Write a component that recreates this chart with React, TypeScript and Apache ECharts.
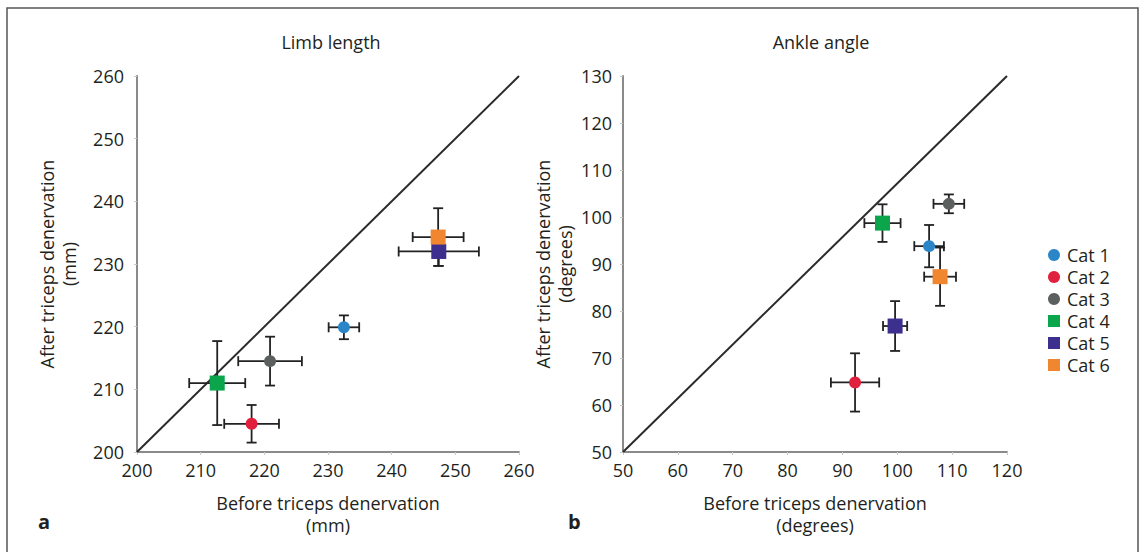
import React, { useEffect, useRef } from "react";
import * as echarts from "echarts";

const categories = ["Cat 1", "Cat 2", "Cat 3", "Cat 4", "Cat 5", "Cat 6"];
const colors = ["#2a86c8", "#e0203c", "#5b605f", "#0ba64b", "#3d2f8e", "#f0862f"];
const shapes = ["circle", "circle", "circle", "rect", "rect", "rect"];

// Limb length (mm)
const limbBefore = [232.5, 218.0, 220.9, 212.6, 247.4, 247.3];
const limbBeforeErr = [2.4, 4.3, 5.0, 4.4, 6.3, 4.0];
const limbAfter = [219.9, 204.5, 214.5, 211.0, 232.0, 234.3];
const limbAfterErr = [1.9, 3.0, 3.9, 6.7, 2.3, 4.6];

// Ankle angle (degrees)
const ankleBefore = [105.8, 92.3, 109.4, 97.3, 99.6, 107.8];
const ankleBeforeErr = [2.7, 4.4, 2.8, 3.3, 2.2, 2.9];
const ankleAfter = [93.8, 64.8, 102.8, 98.7, 76.8, 87.3];
const ankleAfterErr = [4.5, 6.2, 2.0, 4.0, 5.3, 6.2];

const limbLine = [[200, 200], [260, 260]];
const ankleLine = [[50, 50], [120, 130]];

const FONT = "Open Sans";
const TXT = "#231f20";

function errRender(params: any, api: any) {
  const x = api.value(0);
  const y = api.value(1);
  const ex = api.value(2);
  const ey = api.value(3);
  const l = api.coord([x - ex, y]);
  const r = api.coord([x + ex, y]);
  const t = api.coord([x, y + ey]);
  const b = api.coord([x, y - ey]);
  const cap = 5;
  const style = { stroke: "#222", lineWidth: 1.8 };
  const ln = (x1: number, y1: number, x2: number, y2: number) => ({
    type: "line",
    shape: { x1, y1, x2, y2 },
    style,
  });
  return {
    type: "group",
    children: [
      ln(l[0], l[1], r[0], r[1]),
      ln(l[0], l[1] - cap, l[0], l[1] + cap),
      ln(r[0], r[1] - cap, r[0], r[1] + cap),
      ln(t[0], t[1], b[0], b[1]),
      ln(t[0] - cap, t[1], t[0] + cap, t[1]),
      ln(b[0] - cap, b[1], b[0] + cap, b[1]),
    ],
  };
}

function axisCommon(min: number, max: number) {
  return {
    type: "value",
    min,
    max,
    interval: 10,
    splitLine: { show: false },
    axisLine: { show: true, lineStyle: { color: "#8a8a8a", width: 2 } },
    axisTick: { show: true, length: 3, lineStyle: { color: "#c8c8c8" } },
    axisLabel: { fontFamily: FONT, fontSize: 18, color: TXT },
    nameTextStyle: { fontFamily: FONT, fontSize: 18, color: TXT, lineHeight: 22 },
  };
}

export default function App() {
  const ref = useRef<HTMLDivElement>(null);
  useEffect(() => {
    if (!ref.current) return;
    const chart = echarts.init(ref.current, undefined, { renderer: "svg" });
    const series: any[] = [];
    series.push({
      type: "line",
      xAxisIndex: 0,
      yAxisIndex: 0,
      data: limbLine,
      symbol: "none",
      lineStyle: { color: "#2a2a2a", width: 2 },
      z: 1,
      silent: true,
    });
    series.push({
      type: "line",
      xAxisIndex: 1,
      yAxisIndex: 1,
      data: ankleLine,
      symbol: "none",
      lineStyle: { color: "#2a2a2a", width: 2 },
      z: 1,
      silent: true,
    });
    categories.forEach((c, i) => {
      series.push({
        type: "custom",
        name: "err" + i,
        xAxisIndex: 0,
        yAxisIndex: 0,
        renderItem: errRender,
        encode: { x: 0, y: 1 },
        data: [[limbBefore[i], limbAfter[i], limbBeforeErr[i], limbAfterErr[i]]],
        z: 2,
      });
      series.push({
        type: "custom",
        name: "err" + i,
        xAxisIndex: 1,
        yAxisIndex: 1,
        renderItem: errRender,
        encode: { x: 0, y: 1 },
        data: [[ankleBefore[i], ankleAfter[i], ankleBeforeErr[i], ankleAfterErr[i]]],
        z: 2,
      });
    });
    categories.forEach((c, i) => {
      const size = shapes[i] === "circle" ? 12 : 15;
      series.push({
        type: "scatter",
        name: c,
        xAxisIndex: 0,
        yAxisIndex: 0,
        symbol: shapes[i],
        symbolSize: size,
        itemStyle: { color: colors[i], opacity: 1 },
        data: [[limbBefore[i], limbAfter[i]]],
        z: 3,
      });
      series.push({
        type: "scatter",
        name: c,
        xAxisIndex: 1,
        yAxisIndex: 1,
        symbol: shapes[i],
        symbolSize: size,
        itemStyle: { color: colors[i], opacity: 1 },
        data: [[ankleBefore[i], ankleAfter[i]]],
        z: 3,
      });
    });

    chart.setOption({
      animation: false,
      backgroundColor: "#ffffff",
      title: [
        {
          text: "Limb length",
          left: 326,
          top: 28,
          textAlign: "center",
          textStyle: { fontFamily: FONT, fontSize: 18, fontWeight: "normal", color: TXT },
        },
        {
          text: "Ankle angle",
          left: 816,
          top: 28,
          textAlign: "center",
          textStyle: { fontFamily: FONT, fontSize: 18, fontWeight: "normal", color: TXT },
        },
      ],
      legend: {
        orient: "vertical",
        left: 1043,
        top: 241,
        itemWidth: 12,
        itemHeight: 12,
        itemGap: 4,
        textStyle: { fontFamily: FONT, fontSize: 18, color: TXT, padding: [0, 0, 0, 2] },
        data: categories.map((c, i) => ({ name: c, icon: shapes[i] })),
        selectedMode: false,
      },
      grid: [
        { left: 137, top: 76, width: 382, height: 376 },
        { left: 623, top: 76, width: 384, height: 376 },
      ],
      xAxis: [
        {
          ...axisCommon(200, 260),
          gridIndex: 0,
          name: "Before triceps denervation\n(mm)",
          nameLocation: "middle",
          nameGap: 40,
          axisLabel: { fontFamily: FONT, fontSize: 18, color: TXT, margin: 9 },
        },
        {
          ...axisCommon(50, 120),
          gridIndex: 1,
          name: "Before triceps denervation\n(degrees)",
          nameLocation: "middle",
          nameGap: 40,
          axisLabel: { fontFamily: FONT, fontSize: 18, color: TXT, margin: 9 },
        },
      ],
      yAxis: [
        {
          ...axisCommon(200, 260),
          gridIndex: 0,
          name: "After triceps denervation\n(mm)",
          nameLocation: "middle",
          nameGap: 57,
          axisLabel: { fontFamily: FONT, fontSize: 18, color: TXT, margin: 13 },
        },
        {
          ...axisCommon(50, 130),
          gridIndex: 1,
          name: "After triceps denervation\n(degrees)",
          nameLocation: "middle",
          nameGap: 47,
          axisLabel: { fontFamily: FONT, fontSize: 18, color: TXT, margin: 11 },
        },
      ],
      graphic: [
        {
          type: "rect",
          shape: { x: 7, y: 8, width: 1131, height: 620 },
          style: { fill: "none", stroke: "#555", lineWidth: 1.5 },
          silent: true,
        },
        {
          type: "text",
          x: 38,
          y: 511,
          style: { text: "a", fontFamily: FONT, fontSize: 20, fontWeight: "bold", fill: TXT },
        },
        {
          type: "text",
          x: 568,
          y: 511,
          style: { text: "b", fontFamily: FONT, fontSize: 20, fontWeight: "bold", fill: TXT },
        },
      ],
      series,
    });
    return () => chart.dispose();
  }, []);
  return (
    <div
      ref={ref}
      style={{ position: "absolute", left: 0, top: 0, width: 1144, height: 552 }}
    />
  );
}
